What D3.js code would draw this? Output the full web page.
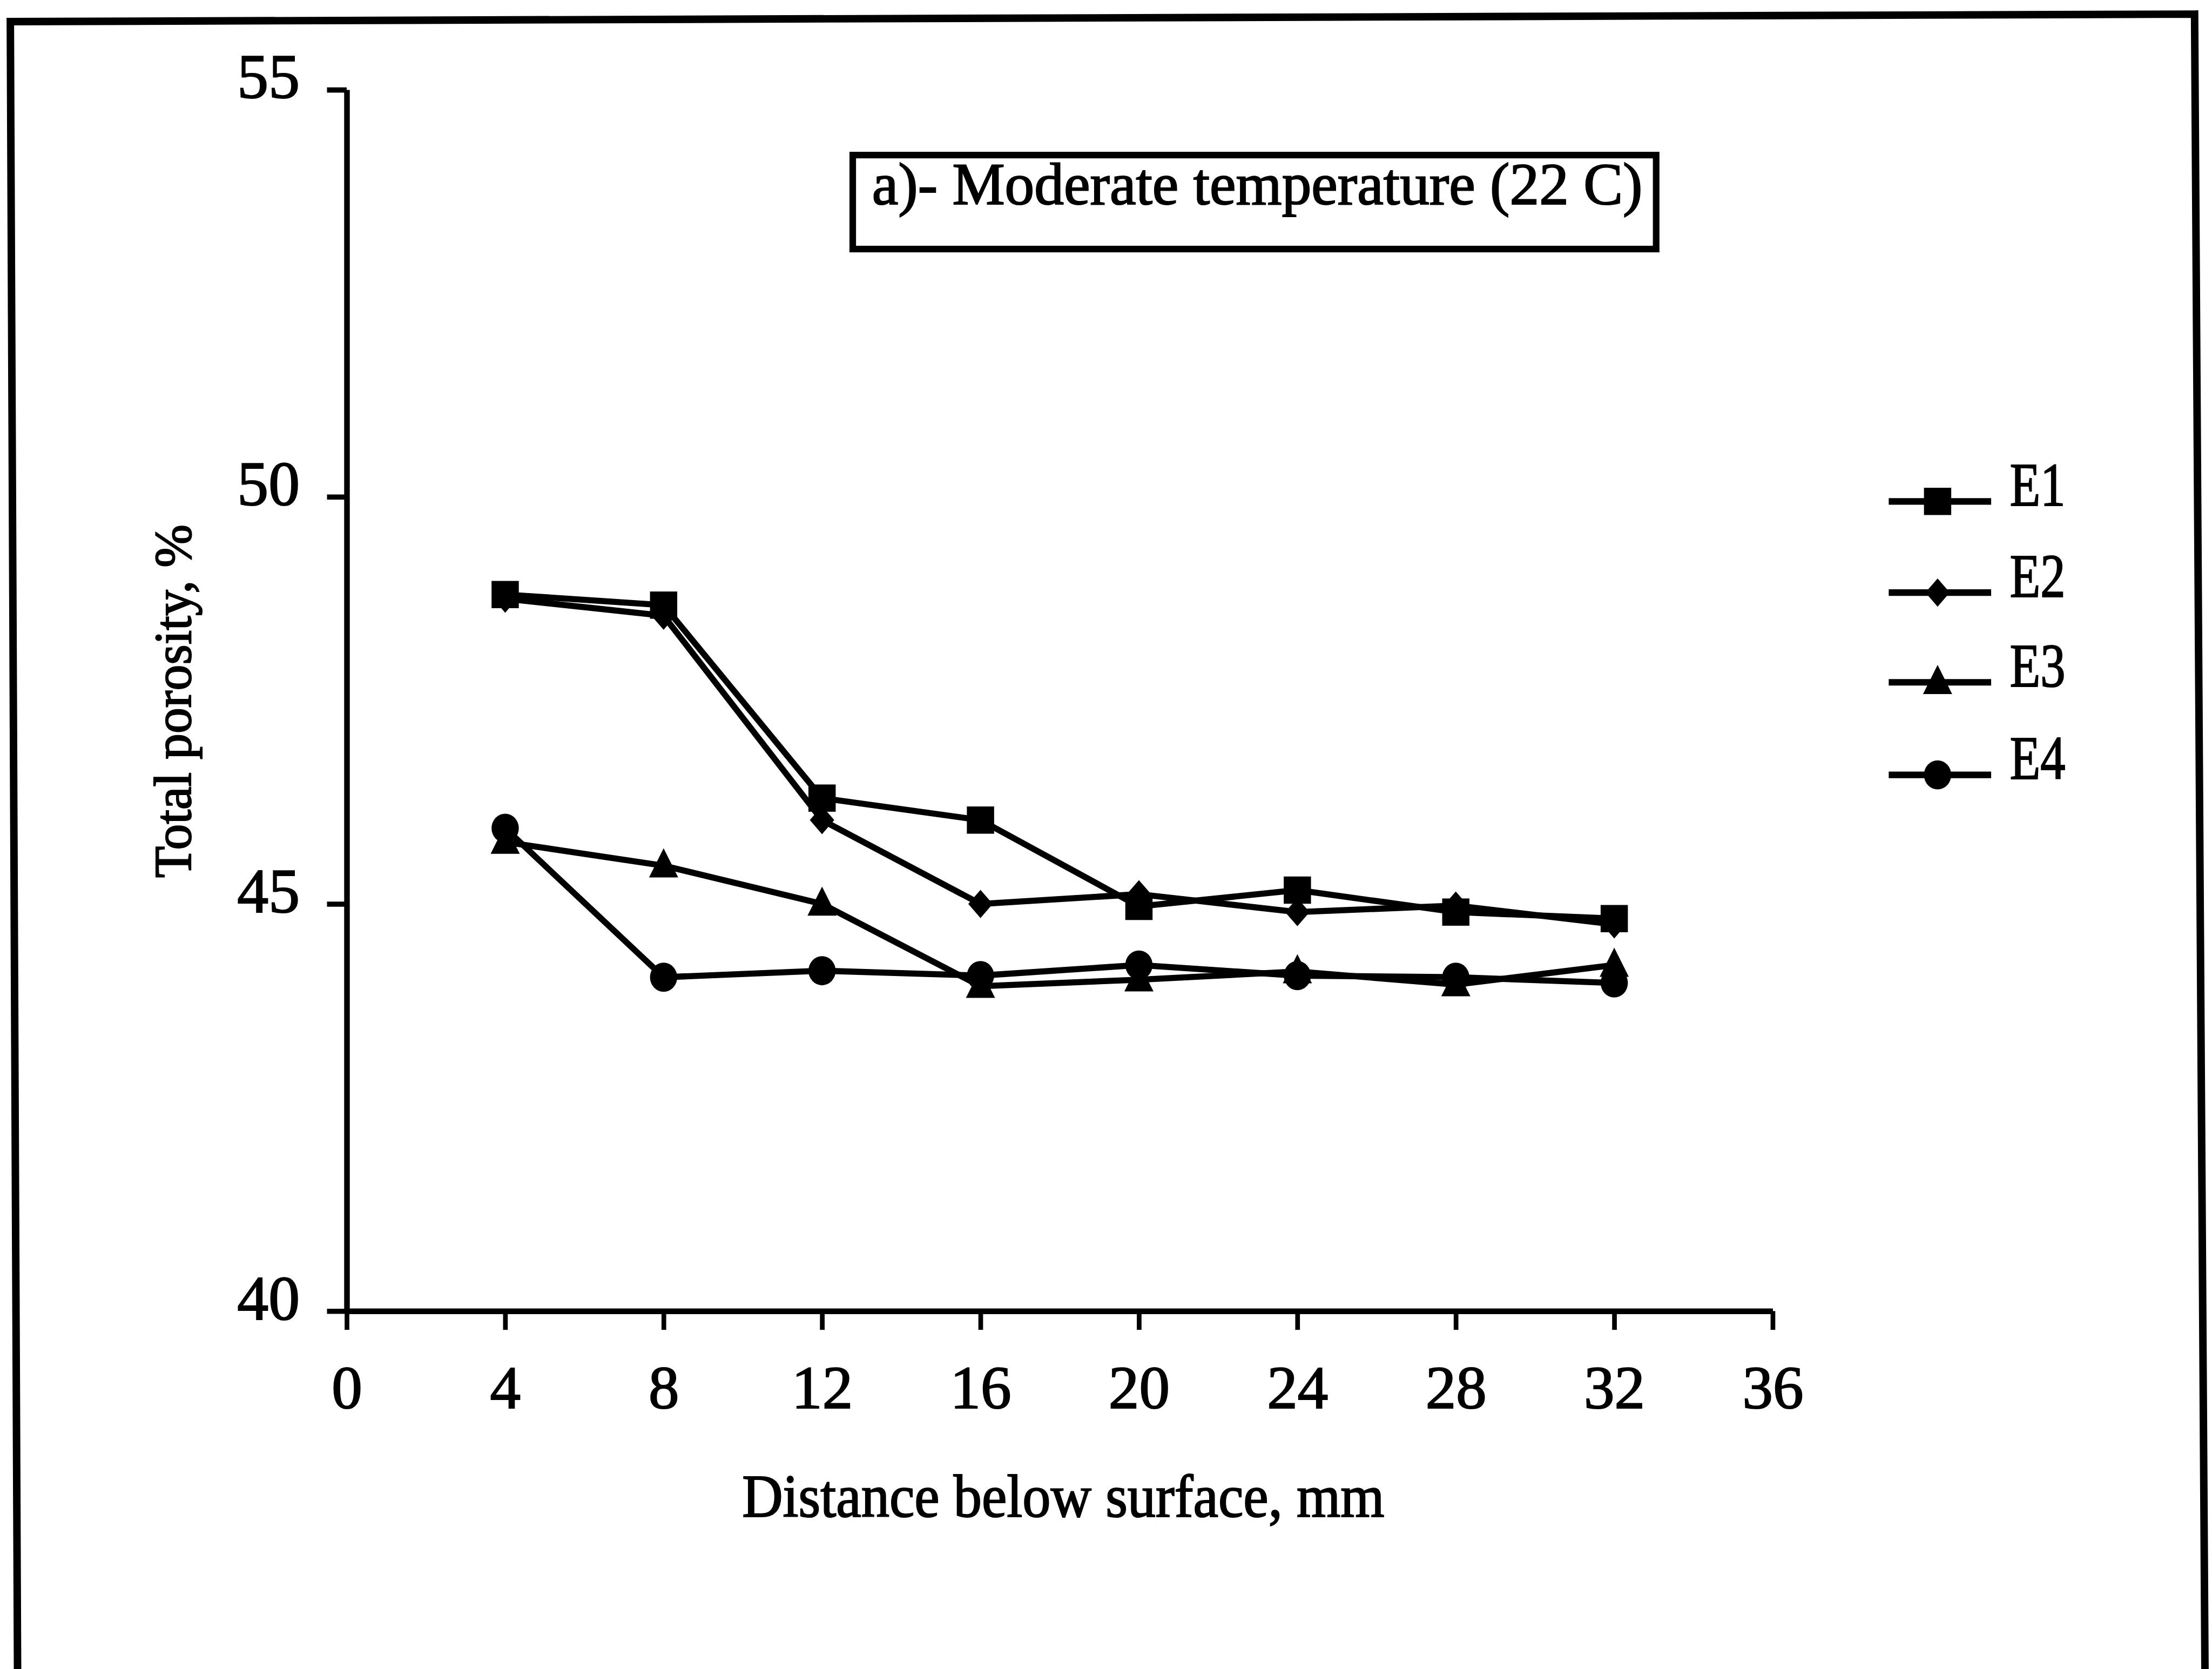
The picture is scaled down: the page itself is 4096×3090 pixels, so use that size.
<!DOCTYPE html>
<html>
<head>
<meta charset="utf-8">
<script src="https://cdn.jsdelivr.net/npm/d3@7"></script>
<style>
  html, body { margin: 0; padding: 0; background: #fff; }
  svg { display: block; }
  text { font-family: "Liberation Serif", "Times New Roman", serif; fill: #000; stroke: #000; stroke-width: 2.5px; }
</style>
</head>
<body>
<script>
// ---- data ----
const distances = [4, 8, 12, 16, 20, 24, 28, 32];
const seriesNames = ["E1", "E2", "E3", "E4"];
const markerKinds = ["square", "diamond", "triangle", "circle"];
const E1 = [48.80, 48.67, 46.30, 46.03, 44.97, 45.17, 44.90, 44.82];
const E2 = [48.75, 48.54, 46.03, 45.00, 45.12, 44.90, 44.98, 44.75];
const E3 = [45.76, 45.47, 45.00, 43.99, 44.07, 44.17, 44.01, 44.25];
const E4 = [45.93, 44.10, 44.18, 44.12, 44.25, 44.12, 44.10, 44.03];
const xTicks = [0, 4, 8, 12, 16, 20, 24, 28, 32, 36];
const yTicks = [40, 45, 50, 55];
const titleText = "a)- Moderate temperature (22 C)";
const xLabel = "Distance below surface, mm";
const yLabel = "Total porosity,  %";

const seriesValues = [E1, E2, E3, E4];

// ---- layout (reference pixel space, scaled by 0.87) ----
const S = 0.87;
const W = 4096, H = 3090;

const svg = d3.select("body").append("svg")
  .attr("width", W).attr("height", H)
  .attr("viewBox", `0 0 ${W} ${H}`);
svg.append("rect").attr("width", W).attr("height", H).attr("fill", "#fff");

const root = svg.append("g").attr("transform", `scale(${S})`);

// outer frame (slightly skewed like the scan)
root.append("path")
  .attr("d", "M22,46 L4671,30 L4694,3700 L38,3700 Z")
  .attr("fill", "none").attr("stroke", "#000").attr("stroke-width", 16)
  .attr("stroke-linejoin", "miter");

const x = d3.scaleLinear().domain([0, 36]).range([738, 3773]);
const y = d3.scaleLinear().domain([40, 55]).range([2790, 191]);

// Y axis
const yAxisG = root.append("g").attr("transform", `translate(${x(0)},0)`)
  .call(d3.axisLeft(y).tickValues(yTicks).tickSize(42).tickSizeOuter(0).tickPadding(58).tickFormat(d3.format("d")));
yAxisG.select(".domain").attr("stroke", "#000").attr("stroke-width", 12);
yAxisG.selectAll(".tick line").attr("stroke", "#000").attr("stroke-width", 11);
yAxisG.selectAll(".tick text")
  .attr("font-size", 133).attr("dy", 0).attr("y", 17)
  .style("font-family", "Liberation Serif").attr("fill", "#000");

// X axis
const xAxisG = root.append("g").attr("transform", `translate(0,${y(40)})`)
  .call(d3.axisBottom(x).tickValues(xTicks).tickSize(40).tickSizeOuter(0).tickFormat(d3.format("d")));
xAxisG.select(".domain").attr("stroke", "#000").attr("stroke-width", 12);
xAxisG.selectAll(".tick line").attr("stroke", "#000").attr("stroke-width", 10);
xAxisG.selectAll(".tick text")
  .attr("font-size", 130).attr("dy", 0).attr("y", 207)
  .style("font-family", "Liberation Serif").attr("fill", "#000");

// Axis titles
root.append("text")
  .attr("x", 2263).attr("y", 3228)
  .attr("text-anchor", "middle")
  .attr("font-size", 130)
  .attr("textLength", 1367).attr("lengthAdjust", "spacingAndGlyphs")
  .text(xLabel);

root.append("text")
  .attr("transform", "translate(406,1492) rotate(-90)")
  .attr("text-anchor", "middle")
  .attr("font-size", 113)
  .attr("textLength", 752).attr("lengthAdjust", "spacingAndGlyphs")
  .text(yLabel);

// Title box
root.append("rect")
  .attr("x", 1815).attr("y", 330).attr("width", 1710).attr("height", 200)
  .attr("fill", "#fff").attr("stroke", "#000").attr("stroke-width", 14);
root.append("text")
  .attr("x", 1856).attr("y", 434)
  .attr("font-size", 127)
  .attr("textLength", 1640).attr("lengthAdjust", "spacingAndGlyphs")
  .text(titleText);

// marker drawing
function drawMarker(g, kind, cx, cy) {
  if (kind === "square") {
    g.append("rect").attr("x", cx - 29).attr("y", cy - 29).attr("width", 58).attr("height", 58).attr("fill", "#000");
  } else if (kind === "diamond") {
    g.append("path").attr("d", `M${cx},${cy - 30} L${cx + 26},${cy} L${cx},${cy + 30} L${cx - 26},${cy} Z`).attr("fill", "#000");
  } else if (kind === "triangle") {
    g.append("path").attr("d", `M${cx},${cy - 37} L${cx + 31},${cy + 25} L${cx - 31},${cy + 25} Z`).attr("fill", "#000");
  } else {
    g.append("ellipse").attr("cx", cx).attr("cy", cy).attr("rx", 29).attr("ry", 31).attr("fill", "#000");
  }
}

const line = d3.line().x(d => x(d[0])).y(d => y(d[1]));

const plotG = root.append("g");
seriesValues.forEach((vals, i) => {
  const pts = distances.map((d, j) => [d, vals[j]]);
  plotG.append("path").datum(pts)
    .attr("d", line)
    .attr("fill", "none").attr("stroke", "#000").attr("stroke-width", 13)
    .attr("stroke-linejoin", "round");
});
seriesValues.forEach((vals, i) => {
  const mg = plotG.append("g");
  distances.forEach((d, j) => drawMarker(mg, markerKinds[i], x(d), y(vals[j])));
});

// Legend
const legendY = [1067, 1261, 1452, 1649];
const legG = root.append("g");
seriesNames.forEach((name, i) => {
  const ly = legendY[i];
  legG.append("line").attr("x1", 4020).attr("x2", 4238).attr("y1", ly).attr("y2", ly)
    .attr("stroke", "#000").attr("stroke-width", 14);
  drawMarker(legG, markerKinds[i], 4124, ly);
  legG.append("text").attr("x", 4278).attr("y", ly + 9)
    .attr("font-size", 132)
    .attr("textLength", 118).attr("lengthAdjust", "spacingAndGlyphs")
    .text(name);
});
</script>
</body>
</html>
